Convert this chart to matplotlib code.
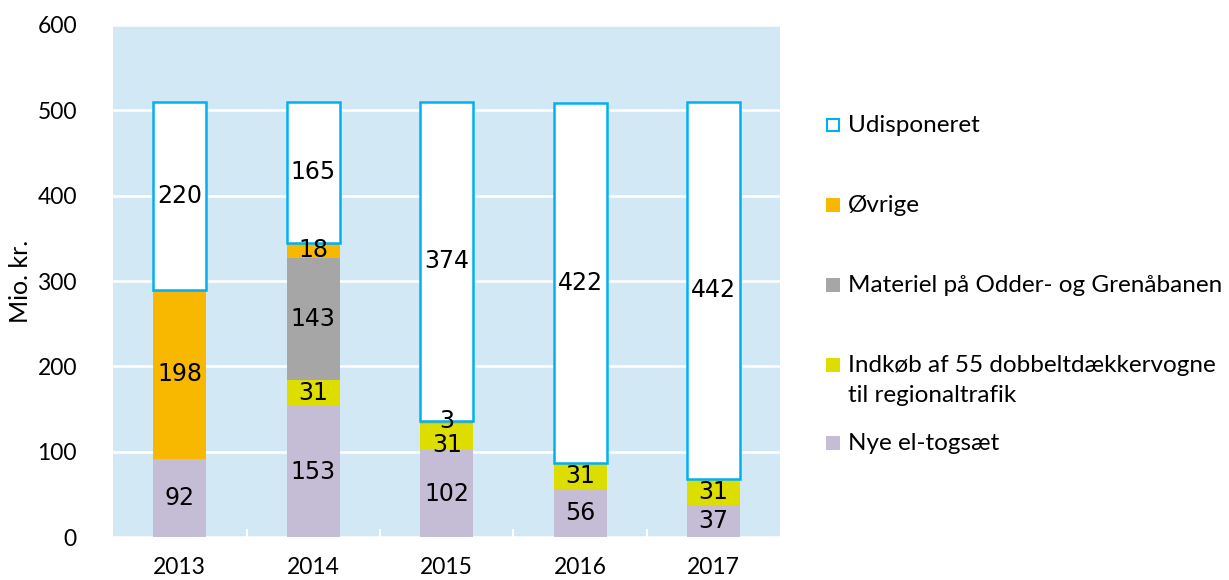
import matplotlib.pyplot as plt
import numpy as np
from matplotlib.patches import Rectangle

years = ['2013', '2014', '2015', '2016', '2017']
nye_el = [92, 153, 102, 56, 37]
indkob = [0, 31, 31, 31, 31]
materiel = [0, 143, 0, 0, 0]
ovrige = [198, 18, 3, 0, 0]
udisponeret = [220, 165, 374, 422, 442]

series = [
    ('Nye el-togsæt', nye_el, '#C5BDD6'),
    ('Indkøb af 55 dobbeltdækkervogne\ntil regionaltrafik', indkob, '#DDDD00'),
    ('Materiel på Odder- og Grenåbanen', materiel, '#A6A6A6'),
    ('Øvrige', ovrige, '#F8B800'),
    ('Udisponeret', udisponeret, 'white'),
]

axis_font = 'Lato'
bg = '#D3E8F5'

fig = plt.figure(figsize=(12.29, 5.8), dpi=100)
ax = fig.add_axes([0.092, 0.074, 0.543, 0.883])
ax.set_facecolor(bg)

x = np.arange(len(years))
bottom = np.zeros(len(years))
for k, (name, vals, col) in enumerate(series):
    vals = np.array(vals, dtype=float)
    if name == 'Udisponeret':
        ax.bar(x, vals, 0.4, bottom=bottom, color='white', edgecolor='#00B0F0',
               linewidth=1.8, zorder=3)
    else:
        ax.bar(x, vals, 0.4, bottom=bottom, color=col, linewidth=0, zorder=2)
    for i, v in enumerate(vals):
        if v > 0:
            yc = bottom[i] + v / 2
            # small Øvrige value squeezes the label below it
            if k == 1 and ovrige[i] and materiel[i] == 0:
                yc -= 10
            if k == 3 and v < 10:
                yc += 2
            ax.text(x[i], yc, '%d' % v, ha='center', va='center',
                    fontsize=17, family='DejaVu Sans', color='black', zorder=4)
    bottom += vals

ax.set_xlim(-0.5, len(years) - 0.5)
ax.set_ylim(0, 600)
ax.set_yticks(range(0, 601, 100))
ax.grid(axis='y', color='white', linewidth=1.8, zorder=1)
ax.set_axisbelow(True)
for s in ax.spines.values():
    s.set_visible(False)

ax.set_xticks(x)
ax.set_xticklabels(years, family=axis_font, fontsize=16.5)
ax.set_xticks(x[:-1] + 0.5, minor=True)
ax.tick_params(axis='x', which='major', length=0, pad=14)
ax.tick_params(axis='x', which='minor', direction='in', length=6, width=1.5, color='white')
ax.tick_params(axis='y', length=0, pad=26, labelsize=16.5)
for lab in ax.get_yticklabels():
    lab.set_family(axis_font)
ax.set_ylabel('Mio. kr.', family=axis_font, fontsize=18, labelpad=4)

# legend drawn by hand to get the uneven spacing
leg_items = [
    ('Udisponeret', 'white', '#00B0F0', 125),
    ('Øvrige', '#F8B800', None, 205),
    ('Materiel på Odder- og Grenåbanen', '#A6A6A6', None, 285),
    ('Indkøb af 55 dobbeltdækkervogne', '#DDDD00', None, 365),
    ('Nye el-togsæt', '#C5BDD6', None, 443),
]
W, H = 1229, 580
for label, fc, ec, ypix in leg_items:
    sz = 14
    if ec:
        fig.add_artist(Rectangle(((826 + 1) / W, (H - ypix - sz / 2 + 1) / H), (sz - 2) / W, (sz - 2) / H,
                                 facecolor=fc, edgecolor=ec, linewidth=1.5,
                                 transform=fig.transFigure))
    else:
        fig.add_artist(Rectangle((826 / W, (H - ypix - sz / 2) / H), sz / W, sz / H,
                                 facecolor=fc, edgecolor='none',
                                 transform=fig.transFigure))
    fig.text(848 / W, (H - ypix) / H, label, family=axis_font, fontsize=17.5,
             va='center', ha='left')
fig.text(848 / W, (H - 396) / H, 'til regionaltrafik', family=axis_font, fontsize=17.5,
         va='center', ha='left')

fig.savefig('out.png', dpi=100)
